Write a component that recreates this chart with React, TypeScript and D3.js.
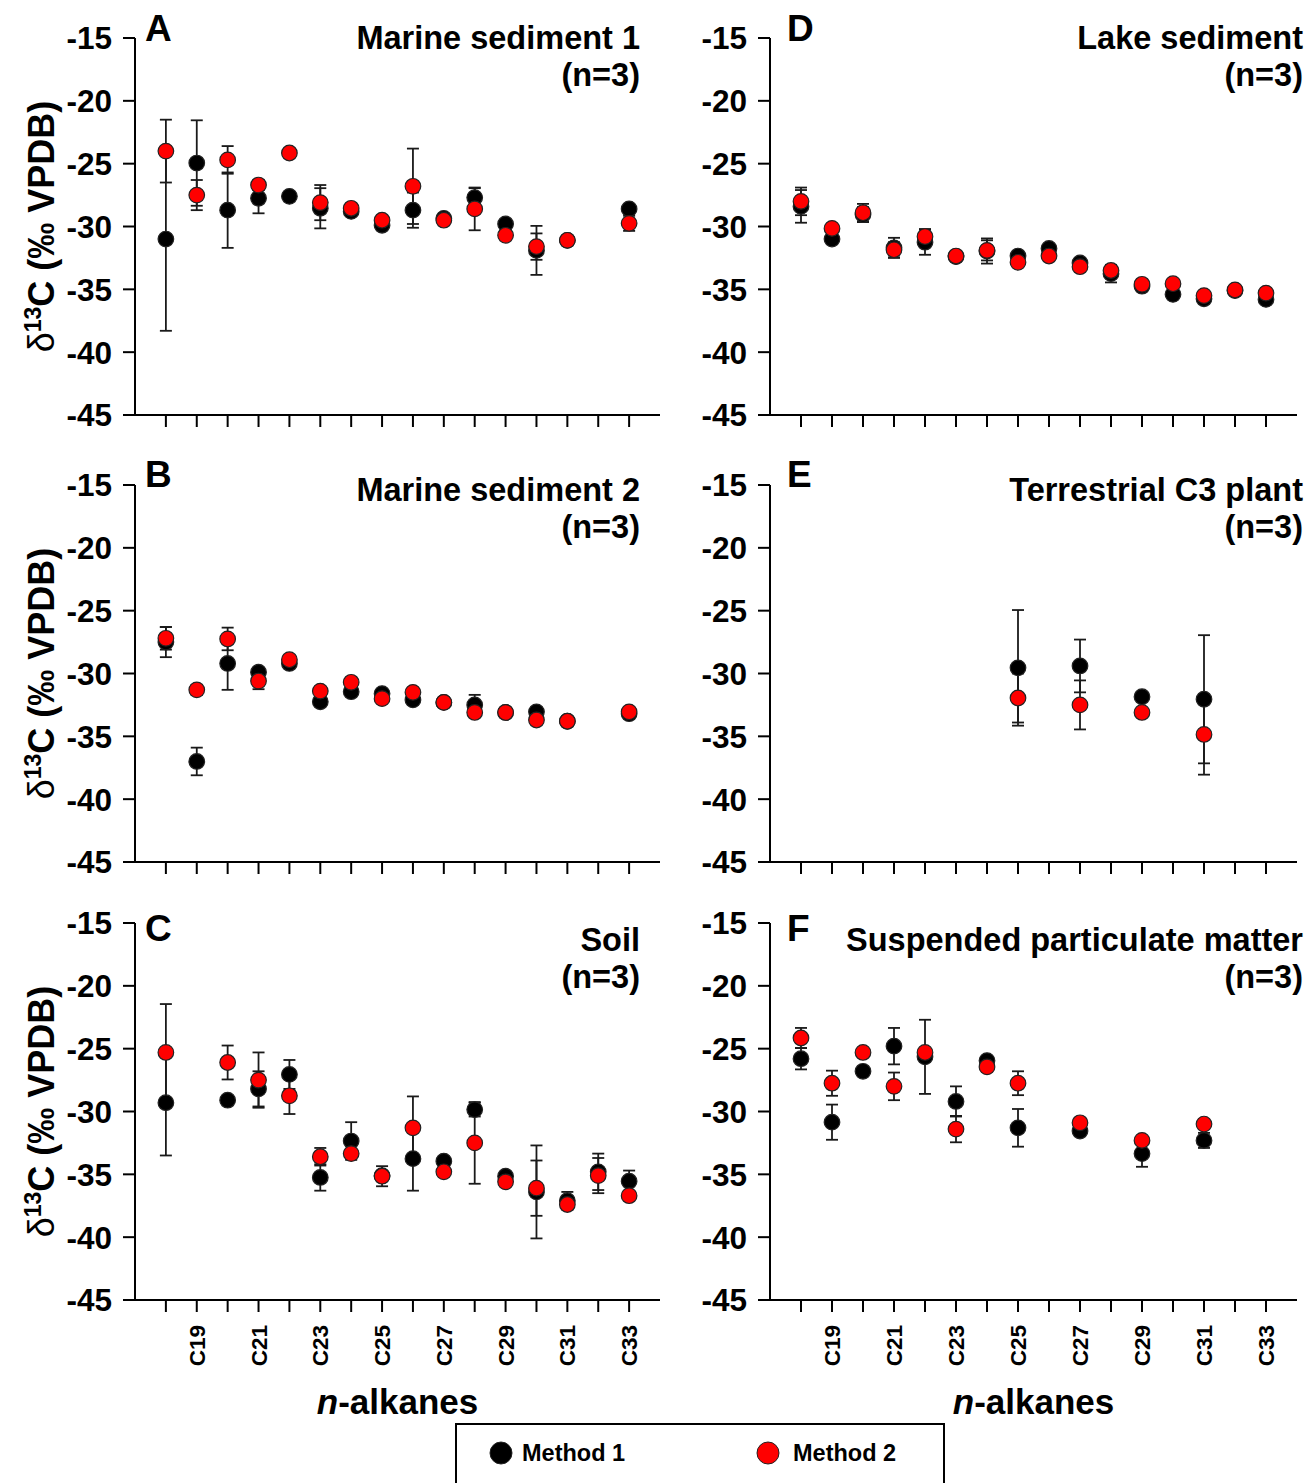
import React from "react";
import * as d3 from "d3";

// ---------- DATA ----------
const carbons = [18, 19, 20, 21, 22, 23, 24, 25, 26, 27, 28, 29, 30, 31, 32, 33];
const xTickLabelCarbons = [19, 21, 23, 25, 27, 29, 31, 33];
const yTicks = [-15, -20, -25, -30, -35, -40, -45];

const panelLetters = ["A", "B", "C", "D", "E", "F"];
const panelTitles = [
  "Marine sediment 1",
  "Marine sediment 2",
  "Soil",
  "Lake sediment",
  "Terrestrial C3 plant",
  "Suspended particulate matter",
];
const sampleSizeLabel = "(n=3)";
const seriesNames = ["Method 1", "Method 2"];
const seriesColors = ["#000000", "#ff0000"];

// A: Marine sediment 1
const m1A = [-31.0, -24.95, -28.7, -27.75, -27.6, -28.55, -28.8, -29.9, -28.7, -29.35, -27.7, -29.8, -31.9, -31.1, null, -28.6];
const m1ErrA = [7.3, 3.4, 3.0, 1.2, 0, 1.6, 0, 0, 1.4, 0, 0.75, 0, 1.95, 0, null, 0];
const m2A = [-24.0, -27.5, -24.7, -26.7, -24.15, -28.1, -28.55, -29.5, -26.8, -29.5, -28.6, -30.7, -31.6, -31.1, null, -29.75];
const m2ErrA = [2.5, 1.2, 1.1, 0.4, 0, 1.4, 0, 0, 3.0, 0, 1.7, 0, 1.05, 0, null, 0.6];

// B: Marine sediment 2
const m1B = [-27.5, -37.0, -29.2, -29.9, -29.2, -32.25, -31.45, -31.6, -32.1, -32.3, -32.5, -33.1, -33.05, -33.8, null, -33.2];
const m1ErrB = [1.2, 1.1, 2.1, 0, 0, 0, 0, 0, 0, 0, 0.8, 0, 0, 0, null, 0];
const m2B = [-27.2, -31.3, -27.25, -30.6, -28.9, -31.4, -30.7, -32.0, -31.5, -32.3, -33.1, -33.1, -33.7, -33.8, null, -33.05];
const m2ErrB = [0.9, 0.4, 0.9, 0.65, 0, 0, 0, 0, 0, 0, 0, 0, 0, 0, null, 0];

// C: Soil
const m1C = [-29.3, null, -29.1, -28.2, -27.05, -35.25, -32.35, -35.1, -33.75, -33.95, -29.85, -35.15, -36.4, -37.1, -34.8, -35.55];
const m1ErrC = [4.2, null, 0, 1.4, 1.15, 1.05, 1.5, 0, 2.55, 0, 0.55, 0, 3.7, 0.7, 1.45, 0.85];
const m2C = [-25.3, null, -26.1, -27.5, -28.75, -33.6, -33.35, -35.15, -31.3, -34.8, -32.5, -35.6, -36.1, -37.4, -35.1, -36.7];
const m2ErrC = [3.85, null, 1.35, 2.2, 1.45, 0.7, 0, 0.8, 2.5, 0, 3.25, 0, 2.2, 0, 1.4, 0];

// D: Lake sediment
const m1D = [-28.4, -31.0, -29.05, -31.7, -31.25, -32.4, -31.95, -32.35, -31.75, -32.9, -33.75, -34.75, -35.4, -35.75, -35.1, -35.8];
const m1ErrD = [1.3, 0, 0.6, 0.8, 1.0, 0, 1.0, 0, 0, 0, 0.7, 0, 0, 0, 0, 0];
const m2D = [-28.0, -30.15, -28.9, -31.85, -30.8, -32.35, -31.9, -32.85, -32.35, -33.2, -33.5, -34.6, -34.55, -35.5, -35.05, -35.3];
const m2ErrD = [1.1, 0, 0.7, 0.6, 0.6, 0, 0.8, 0, 0, 0, 0, 0, 0, 0, 0, 0];

// E: Terrestrial C3 plant
const m1E = [null, null, null, null, null, null, null, -29.55, null, -29.4, null, -31.85, null, -32.05, null, null];
const m1ErrE = [null, null, null, null, null, null, null, 4.6, null, 2.1, null, 0, null, 5.1, null, null];
const m2E = [null, null, null, null, null, null, null, -31.95, null, -32.5, null, -33.1, null, -34.85, null, null];
const m2ErrE = [null, null, null, null, null, null, null, 1.95, null, 1.95, null, 0, null, 3.2, null, null];

// F: Suspended particulate matter
const m1F = [-25.8, -30.85, -26.8, -24.8, -25.65, -29.2, -25.95, -31.3, null, -31.55, null, -33.35, null, -32.3, null, null];
const m1ErrF = [0.85, 1.4, 0, 1.45, 2.95, 1.2, 0, 1.5, null, 0, null, 1.05, null, 0.6, null, null];
const m2F = [-24.15, -27.75, -25.3, -28.0, -25.3, -31.4, -26.45, -27.75, null, -30.9, null, -32.3, null, -31.0, null, null];
const m2ErrF = [0.8, 1.0, 0, 1.1, 0, 1.05, 0, 0.95, null, 0, null, 0, null, 0, null, null];

const panelSeries = [
  [[m1A, m1ErrA], [m2A, m2ErrA]],
  [[m1B, m1ErrB], [m2B, m2ErrB]],
  [[m1C, m1ErrC], [m2C, m2ErrC]],
  [[m1D, m1ErrD], [m2D, m2ErrD]],
  [[m1E, m1ErrE], [m2E, m2ErrE]],
  [[m1F, m1ErrF], [m2F, m2ErrF]],
];

// ---------- LAYOUT ----------
const W = 1307;
const H = 1483;
const FONT = "'Liberation Sans', Arial, Helvetica, sans-serif";
const cols = [
  { x0: 135, x1: 660, titleRight: 640, letterX: 145 },
  { x0: 770, x1: 1297, titleRight: 1303, letterX: 787 },
];
const rows = [
  { y0: 38, y1: 415, letterY: 41, titleY: 49 },
  { y0: 485, y1: 862, letterY: 487, titleY: 501 },
  { y0: 923, y1: 1300, letterY: 941, titleY: 951 },
];

type PanelProps = { idx: number };

function Panel({ idx }: PanelProps) {
  const col = cols[Math.floor(idx / 3)];
  const row = rows[idx % 3];
  const isBottom = idx % 3 === 2;
  const isLeft = idx < 3;
  const x = d3.scaleLinear().domain([17, 34]).range([col.x0, col.x1]);
  const y = d3.scaleLinear().domain([-45, -15]).range([row.y1, row.y0]);
  const series = panelSeries[idx];
  const capHalf = 6;
  const r = 7.8;

  const bars: JSX.Element[] = [];
  const dots: JSX.Element[] = [];
  series.forEach(([vals, errs], s) => {
    vals.forEach((v, i) => {
      if (v === null || v === undefined) return;
      const e = errs[i] as number | null;
      const cx = x(carbons[i]);
      if (e && e > 0) {
        const yt = y(v + e);
        const yb = y(v - e);
        bars.push(
          <g key={`b${s}-${i}`} stroke="#1a1a1a" strokeWidth={1.8}>
            <line x1={cx} x2={cx} y1={yt} y2={yb} />
            <line x1={cx - capHalf} x2={cx + capHalf} y1={yt} y2={yt} />
            <line x1={cx - capHalf} x2={cx + capHalf} y1={yb} y2={yb} />
          </g>
        );
      }
      dots.push(
        <circle key={`d${s}-${i}`} cx={cx} cy={y(v)} r={r} fill={seriesColors[s]} stroke="#222" strokeWidth={1.2} />
      );
    });
  });

  return (
    <g>
      {/* y axis */}
      <line x1={col.x0} x2={col.x0} y1={row.y0} y2={row.y1} stroke="#000" strokeWidth={2} />
      {yTicks.map((t) => (
        <g key={`yt${t}`}>
          <line x1={col.x0 - 12} x2={col.x0} y1={y(t)} y2={y(t)} stroke="#000" strokeWidth={2} />
          <text
            x={col.x0 - 23}
            y={y(t)}
            dy="0.36em"
            textAnchor="end"
            fontSize={31.5}
            fontWeight="bold"
            fontFamily={FONT}
          >
            {t}
          </text>
        </g>
      ))}
      {/* x axis */}
      <line x1={col.x0} x2={col.x1} y1={row.y1} y2={row.y1} stroke="#000" strokeWidth={2} />
      {carbons.map((c) => (
        <line key={`xt${c}`} x1={x(c)} x2={x(c)} y1={row.y1} y2={row.y1 + 12} stroke="#000" strokeWidth={2} />
      ))}
      {isBottom &&
        xTickLabelCarbons.map((c) => (
          <text
            key={`xl${c}`}
            transform={`translate(${x(c) + 8},${row.y1 + 25}) rotate(-90)`}
            textAnchor="end"
            fontSize={22.5}
            fontWeight="bold"
            fontFamily={FONT}
          >
            {`C${c}`}
          </text>
        ))}
      {isBottom && (
        <text
          x={(col.x0 + col.x1) / 2}
          y={1414}
          textAnchor="middle"
          fontSize={35}
          fontWeight="bold"
          fontFamily={FONT}
        >
          <tspan fontStyle="italic">n</tspan>
          <tspan>-alkanes</tspan>
        </text>
      )}
      {isLeft && (
        <text
          transform={`translate(54,${(row.y0 + row.y1) / 2}) rotate(-90)`}
          textAnchor="middle"
          fontSize={36}
          fontWeight="bold"
          fontFamily={FONT}
        >
          <tspan fontWeight="normal">δ</tspan>
          <tspan fontSize={23} dy={-13}>13</tspan>
          <tspan dy={13}>C (‰ VPDB)</tspan>
        </text>
      )}
      {/* panel letter */}
      <text x={col.letterX} y={row.letterY} fontSize={37} fontWeight="bold" fontFamily={FONT}>
        {panelLetters[idx]}
      </text>
      {/* title */}
      <text x={col.titleRight} y={row.titleY} textAnchor="end" fontSize={32.5} fontWeight="bold" fontFamily={FONT}>
        {panelTitles[idx]}
      </text>
      <text x={col.titleRight} y={row.titleY + 37} textAnchor="end" fontSize={32.5} fontWeight="bold" fontFamily={FONT}>
        {sampleSizeLabel}
      </text>
      {bars}
      {dots}
    </g>
  );
}

export default function App() {
  const legendItems = [
    { cx: 501, tx: 522 },
    { cx: 768, tx: 793 },
  ];
  return (
    <svg
      width={W}
      height={H}
      style={{ position: "absolute", left: 0, top: 0, background: "#fff" }}
      xmlns="http://www.w3.org/2000/svg"
    >
      <rect x={0} y={0} width={W} height={H} fill="#fff" />
      {[0, 1, 2, 3, 4, 5].map((i) => (
        <Panel key={i} idx={i} />
      ))}
      {/* legend */}
      <rect x={456} y={1424} width={488} height={80} fill="#fff" stroke="#000" strokeWidth={2} />
      {seriesNames.map((name, i) => (
        <g key={name}>
          <circle cx={legendItems[i].cx} cy={1453} r={11} fill={seriesColors[i]} stroke="#222" strokeWidth={1} />
          <text
            x={legendItems[i].tx}
            y={1453}
            dy="0.36em"
            fontSize={23.5}
            fontWeight="bold"
            fontFamily={FONT}
          >
            {name}
          </text>
        </g>
      ))}
    </svg>
  );
}
